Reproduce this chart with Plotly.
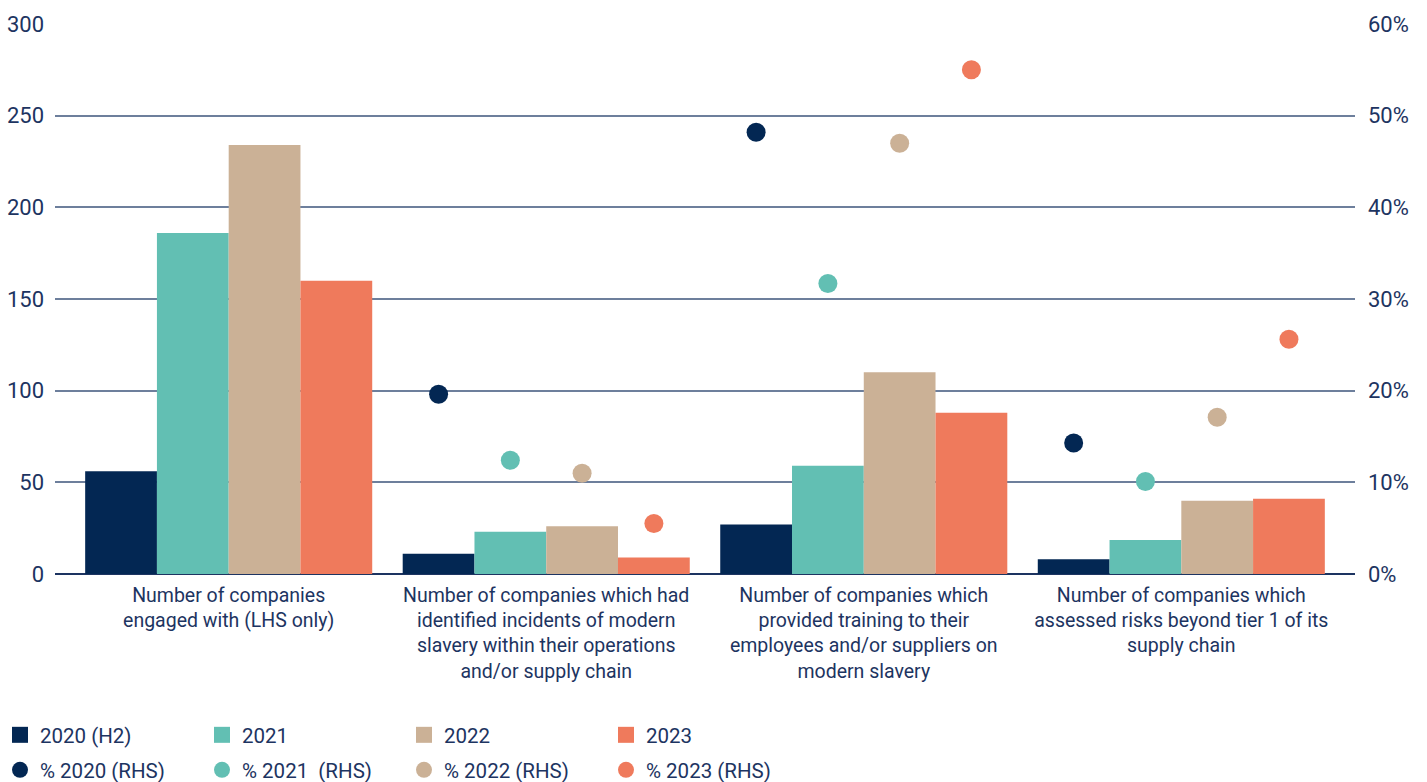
import plotly.graph_objects as go

categories = [
    "Number of companies<br>engaged with (LHS only)",
    "Number of companies which had<br>identified incidents of modern<br>slavery within their operations<br>and/or supply chain",
    "Number of companies which<br>provided training to their<br>employees and/or suppliers on<br>modern slavery",
    "Number of companies which<br>assessed risks beyond tier 1 of its<br>supply chain",
]
bar_names = ["2020 (H2)", "2021", "2022", "2023"]
dot_names = ["% 2020 (RHS)", "% 2021  (RHS)", "% 2022 (RHS)", "% 2023 (RHS)"]

counts_2020 = [56, 11, 27, 8]
counts_2021 = [186, 23, 59, 18.5]
counts_2022 = [234, 26, 110, 40]
counts_2023 = [160, 9, 88, 41]

pct_2020 = [None, 19.6, 48.2, 14.3]
pct_2021 = [None, 12.4, 31.7, 10.1]
pct_2022 = [None, 11.0, 47.0, 17.1]
pct_2023 = [None, 5.5, 55.0, 25.6]

left_ticks = [0, 50, 100, 150, 200, 250, 300]
right_ticks = [0, 10, 20, 30, 40, 50, 60]

colors = ["#032753", "#62BFB3", "#CBB196", "#EF7A5C"]
text_color = "#1d3461"
narrow = "Roboto, sans-serif"
regular = "Roboto, Liberation Sans, Arial, sans-serif"

bargap = 0.096
n = len(bar_names)
bw = (1 - bargap) / n
xidx = list(range(len(categories)))

fig = go.Figure()
for j, (name, vals) in enumerate(zip(bar_names, [counts_2020, counts_2021, counts_2022, counts_2023])):
    fig.add_trace(go.Bar(x=xidx, y=vals, name=name, marker=dict(color=colors[j], line=dict(width=0)),
                         showlegend=False, yaxis="y"))
    # legend entry with a larger square swatch
    fig.add_trace(go.Scatter(x=[None], y=[None], name=name, mode="markers",
                             marker=dict(color=colors[j], size=20, symbol="square"),
                             legend="legend", yaxis="y"))

for j, (name, vals) in enumerate(zip(dot_names, [pct_2020, pct_2021, pct_2022, pct_2023])):
    xs = [i + (j - (n - 1) / 2) * bw for i in xidx]
    fig.add_trace(go.Scatter(x=xs, y=vals, name=name, mode="markers",
                             marker=dict(color=colors[j], size=19, line=dict(width=0)),
                             legend="legend2", yaxis="y2"))

leg_common = dict(orientation="h", xref="container", x=0, xanchor="left", yref="container",
                  yanchor="middle", entrywidth=157, entrywidthmode="pixels",
                  font=dict(family=narrow, size=20.5, color=text_color), itemclick=False,
                  itemsizing="trace", bgcolor="rgba(0,0,0,0)")

fig.update_layout(
    width=1427, height=782,
    margin=dict(l=55, r=72, t=24, b=208, autoexpand=False),
    plot_bgcolor="white", paper_bgcolor="white",
    barmode="group", bargap=bargap, bargroupgap=0,
    font=dict(family=narrow, size=20, color=text_color),
    xaxis=dict(range=[-0.547, 3.547], tickmode="array", tickvals=xidx, ticktext=categories,
               showgrid=False, zeroline=False, showline=False, ticks="", automargin=False,
               tickfont=dict(family=narrow, size=19.5, color=text_color), ticklabelstandoff=7),
    yaxis=dict(range=[0, 300], tickmode="array", tickvals=left_ticks,
               ticktext=[str(v) for v in left_ticks], automargin=False,
               showgrid=True, gridcolor="#6d7f9c", gridwidth=1.5,
               zeroline=True, zerolinecolor="#1d3461", zerolinewidth=2,
               tickfont=dict(family=regular, size=22, color=text_color), ticklabelstandoff=10),
    yaxis2=dict(range=[0, 60], overlaying="y", side="right", tickmode="array", tickvals=right_ticks,
                ticktext=[f"{v}%" for v in right_ticks], showgrid=False, zeroline=False, automargin=False,
                tickfont=dict(family=regular, size=22, color=text_color), ticklabelstandoff=12),
    legend=dict(leg_common, y=1 - 735 / 782),
    legend2=dict(leg_common, y=1 - 770 / 782),
)

fig.write_html("out.html")
